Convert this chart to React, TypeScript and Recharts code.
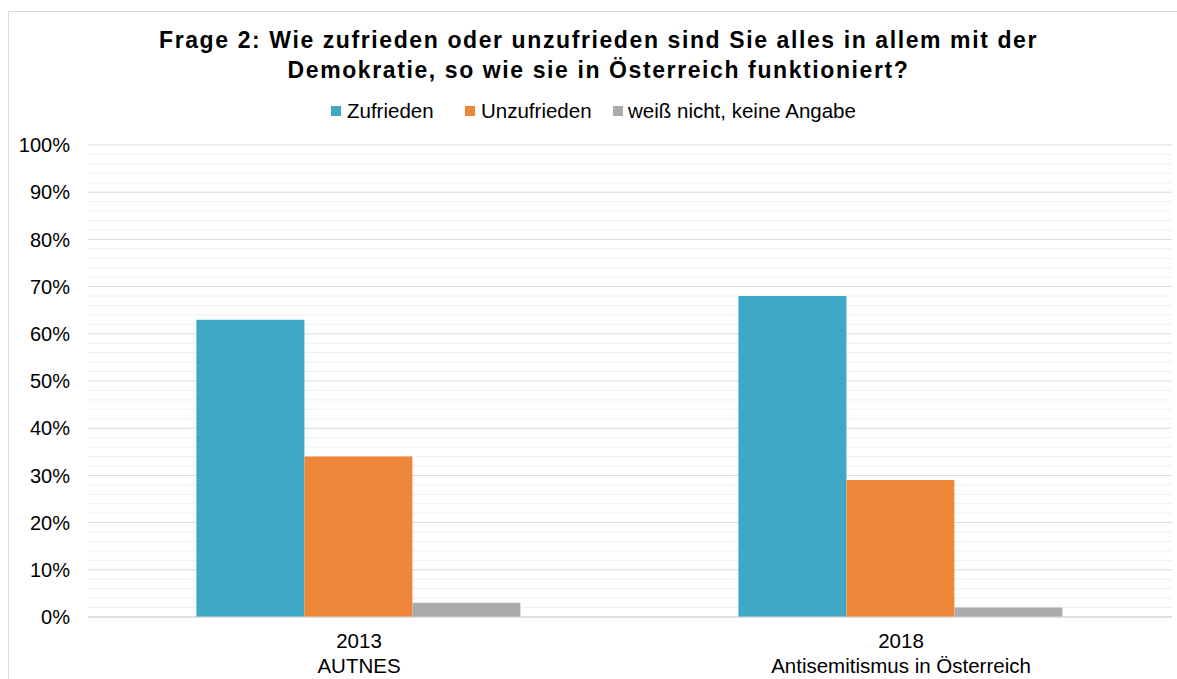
import React from "react";
import { BarChart, Bar, XAxis, YAxis, CartesianGrid } from "recharts";

const CATEGORIES = ["2013", "2018"];
const SOURCES = ["AUTNES", "Antisemitismus in Österreich"];
const ZUFRIEDEN = [63, 68];
const UNZUFRIEDEN = [34, 29];
const WEISS_NICHT = [3, 2];
const MAJOR_TICKS = [0, 10, 20, 30, 40, 50, 60, 70, 80, 90, 100];
const MINOR_TICKS = [2, 4, 6, 8, 12, 14, 16, 18, 22, 24, 26, 28, 32, 34, 36, 38, 42, 44, 46, 48, 52, 54, 56, 58, 62, 64, 66, 68, 72, 74, 76, 78, 82, 84, 86, 88, 92, 94, 96, 98];
const TITLE_LINES = [
  "Frage 2: Wie zufrieden oder unzufrieden sind Sie alles in allem mit der",
  "Demokratie, so wie sie in Österreich funktioniert?",
];
const SERIES = [
  { key: "zufrieden", name: "Zufrieden", color: "#3EA8C5" },
  { key: "unzufrieden", name: "Unzufrieden", color: "#EF873B" },
  { key: "weissNicht", name: "weiß nicht, keine Angabe", color: "#ABABAB" },
];

const data = CATEGORIES.map((c, i) => ({
  category: c,
  source: SOURCES[i],
  zufrieden: ZUFRIEDEN[i],
  unzufrieden: UNZUFRIEDEN[i],
  weissNicht: WEISS_NICHT[i],
}));

const FONT = "'Liberation Sans', Arial, sans-serif";

const YTick = (props: any) => {
  const { x, y, payload } = props;
  return (
    <text x={x - 18} y={y} dy="0.36em" textAnchor="end" fontFamily={FONT} fontSize={20} fill="#000">
      {payload.value}%
    </text>
  );
};

const XTick = (props: any) => {
  const { x, y, payload, index } = props;
  return (
    <g>
      <text x={x} y={y + 31} textAnchor="middle" fontFamily={FONT} fontSize={20.5} fill="#000">
        {payload.value}
      </text>
      <text x={x} y={y + 56} textAnchor="middle" fontFamily={FONT} fontSize={20.5} fill="#000">
        {SOURCES[index]}
      </text>
    </g>
  );
};

const LEGEND_X = [
  { m: 331, t: 347 },
  { m: 465, t: 481 },
  { m: 613, t: 628 },
];

export default function App() {
  return (
    <div style={{ position: "absolute", left: 0, top: 0, width: 1177, height: 679, background: "#fff", overflow: "hidden" }}>
      <div
        style={{
          position: "absolute",
          left: 8,
          top: 11,
          width: 1169,
          height: 668,
          borderTop: "1px solid #d9d9d9",
          borderLeft: "1px solid #d9d9d9",
          boxSizing: "border-box",
        }}
      />
      <div style={{ position: "absolute", left: 0, top: 0 }}>
        <BarChart
          width={1177}
          height={679}
          data={data}
          margin={{ top: 145, right: 5, bottom: 0, left: 0 }}
          barCategoryGap="20%"
          barGap={0}
        >
          <CartesianGrid vertical={false} horizontalValues={MINOR_TICKS} stroke="#efefef" strokeWidth={1} />
          <CartesianGrid vertical={false} horizontalValues={MAJOR_TICKS} stroke="#d9d9d9" strokeWidth={1} />
          <YAxis
            width={88}
            domain={[0, 100]}
            ticks={MAJOR_TICKS}
            axisLine={false}
            tickLine={false}
            tickSize={0}
            tickMargin={0}
            tick={<YTick />}
            interval={0}
          />
          <XAxis
            dataKey="category"
            axisLine={{ stroke: "#d4d4d4" }}
            tickLine={false}
            tickSize={0}
            tickMargin={0}
            tick={<XTick />}
            height={62}
            interval={0}
          />
          {SERIES.map((s) => (
            <Bar key={s.key} dataKey={s.key} name={s.name} fill={s.color} isAnimationActive={false} />
          ))}
        </BarChart>
      </div>
      <svg width={1177} height={140} style={{ position: "absolute", left: 0, top: 0, pointerEvents: "none" }}>
        {TITLE_LINES.map((line, i) => (
          <text
            key={i}
            x={598.5}
            y={47.5 + i * 30.5}
            textAnchor="middle"
            fontFamily={FONT}
            fontWeight="bold"
            fontSize={23}
            letterSpacing={1.6}
            fill="#000"
          >
            {line}
          </text>
        ))}
        {SERIES.map((s, i) => (
          <g key={s.key}>
            <rect x={LEGEND_X[i].m} y={106} width={10} height={10} fill={s.color} />
            <text x={LEGEND_X[i].t} y={118} fontFamily={FONT} fontSize={20.5} fill="#000">
              {s.name}
            </text>
          </g>
        ))}
      </svg>
    </div>
  );
}
